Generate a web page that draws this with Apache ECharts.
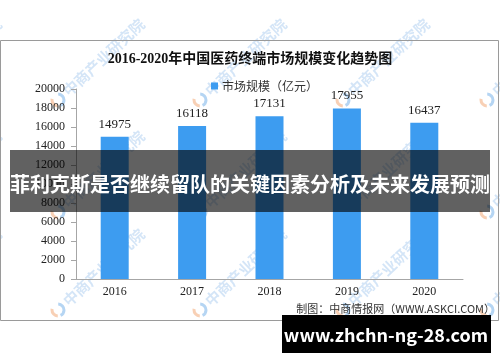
<!DOCTYPE html>
<html>
<head>
<meta charset="utf-8">
<script src="https://cdn.jsdelivr.net/npm/echarts@6/dist/echarts.min.js"></script>
<style>
html,body{margin:0;padding:0;background:#fff;}
#chart{width:500px;height:362px;}
</style>
</head>
<body>
<div id="chart"></div>
<script>
const titleText = '2016-2020年中国医药终端市场规模变化趋势图';
const seriesName = '市场规模（亿元）';
const categories = ['2016', '2017', '2018', '2019', '2020'];
const marketSize = [14975, 16118, 17131, 17955, 16437];
const yMin = 0, yMax = 20000, yInterval = 2000;
const overlayText = '菲利克斯是否继续留队的关键因素分析及未来发展预测';
const sourceText = '制图：中商情报网（WWW.ASKCI.COM）';
const bannerText = 'www.zhchn-ng-28.com';
const watermarkText = '中商产业研究院';

const chart = echarts.init(document.getElementById('chart'), null, {renderer: 'canvas'});

const wmCols = [-85, 58, 200, 343, 487];
const wmRows = [100, 212, 310];
const watermarks = [];
wmRows.forEach(function (y) {
  wmCols.forEach(function (x) {
    watermarks.push({
      type: 'group',
      x: x, y: y,
      rotation: 0.75,
      z: 50,
      silent: true,
      children: [
        {type: 'arc', shape: {cx: 0, cy: 0, r: 6, startAngle: -Math.PI * 0.25, endAngle: Math.PI * 0.6},
         style: {stroke: 'rgba(70,150,225,0.4)', lineWidth: 3, fill: null}},
        {type: 'arc', shape: {cx: 0, cy: 0, r: 6, startAngle: Math.PI * 0.75, endAngle: Math.PI * 1.3},
         style: {stroke: 'rgba(240,150,90,0.45)', lineWidth: 3, fill: null}},
        {type: 'text', x: 10, y: 0,
         style: {text: watermarkText, fill: 'rgba(120,175,230,0.32)', font: 'bold 15px "Noto Sans CJK SC"',
                 textVerticalAlign: 'middle', textAlign: 'left'}}
      ]
    });
  });
});

const option = {
  animation: false,
  backgroundColor: '#fff',
  title: {
    text: titleText,
    left: 'center',
    top: 52,
    padding: 0,
    textStyle: {fontFamily: '"Liberation Serif","Noto Sans CJK SC"', fontSize: 14, fontWeight: 'bold', color: '#111'}
  },
  legend: {
    data: [seriesName],
    left: 206,
    top: 75,
    icon: 'rect',
    itemWidth: 7,
    itemHeight: 7,
    itemGap: 4,
    textStyle: {fontFamily: '"Noto Sans CJK SC"', fontSize: 12, color: '#333', padding: [0, 0, 0, -1]}
  },
  grid: {left: 76, right: 37, top: 89, bottom: 83, containLabel: false},
  xAxis: {
    type: 'category',
    data: categories,
    axisLine: {lineStyle: {color: '#a6a6a6'}},
    axisTick: {length: 5, lineStyle: {color: '#a6a6a6'}},
    axisLabel: {fontFamily: '"Liberation Serif"', fontSize: 12, color: '#222', margin: 7}
  },
  yAxis: {
    type: 'value',
    min: yMin, max: yMax, interval: yInterval,
    axisLine: {show: true, lineStyle: {color: '#a6a6a6'}},
    axisTick: {show: true, length: 5, lineStyle: {color: '#a6a6a6'}},
    splitLine: {show: false},
    axisLabel: {fontFamily: '"Liberation Serif"', fontSize: 12, color: '#222', margin: 11,
                formatter: function (v) { return String(v); }}
  },
  series: [{
    name: seriesName,
    type: 'bar',
    data: marketSize,
    barWidth: 28,
    itemStyle: {color: '#3d9cf0'},
    label: {show: true, position: 'top', distance: 6, fontFamily: '"Liberation Serif"', fontSize: 13, color: '#222'}
  }],
  graphic: [
    {type: 'rect', shape: {x: 0.5, y: 40.5, width: 498, height: 280}, style: {fill: null, stroke: '#9a9a9a', lineWidth: 1}, z: 1, silent: true},
    {type: 'text', x: 495, y: 309, z: 60,
     style: {text: sourceText, fill: '#333', font: '11px "Noto Sans CJK SC"', textAlign: 'right', textVerticalAlign: 'middle'}}
  ].concat(watermarks).concat([
    {type: 'rect', shape: {x: 10, y: 150, width: 480, height: 62}, style: {fill: 'rgba(0,0,0,0.62)'}, z: 100, silent: true},
    {type: 'text', x: 250, y: 184, z: 101,
     style: {text: overlayText, fill: '#fff', font: 'bold 20px "Noto Sans CJK SC"', textAlign: 'center', textVerticalAlign: 'middle'}},
    {type: 'rect', shape: {x: 282, y: 315, width: 209, height: 38}, style: {fill: '#000'}, z: 100, silent: true},
    {type: 'text', x: 386, y: 335, z: 101,
     style: {text: bannerText, fill: '#fff', font: 'bold 18px "Noto Sans CJK SC"', textAlign: 'center', textVerticalAlign: 'middle'}}
  ])
};
chart.setOption(option);
</script>
</body>
</html>
